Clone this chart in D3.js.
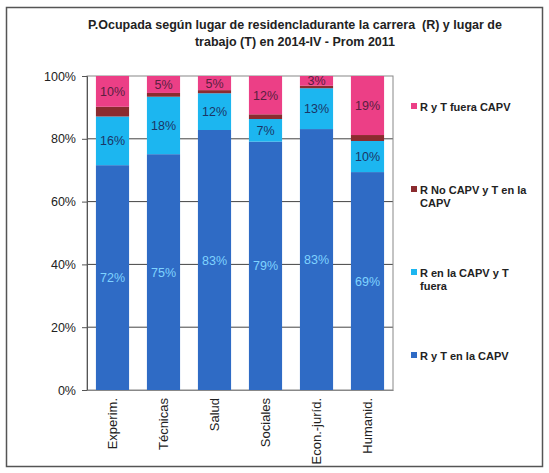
<!DOCTYPE html>
<html><head><meta charset="utf-8">
<script src="https://cdn.jsdelivr.net/npm/d3@7/dist/d3.min.js"></script>
<style>body{margin:0;background:#fff}svg{display:block;font-family:"Liberation Sans",Arial,sans-serif}</style>
</head><body><svg id="c" width="549" height="473"></svg>
<script>
const categories = ["Experim.","Técnicas","Salud","Sociales","Econ.-juríd.","Humanid."];
const seriesNames = ["R y T en la CAPV","R en la CAPV y T fuera","R No CAPV y T en la CAPV","R y T fuera CAPV"];
const rytCapv   = [71.6, 75.1, 82.8, 79.1, 83.1, 69.4];
const rCapvTFue = [15.5, 18.3, 11.7, 7.2, 13.0, 9.9];
const rNoCapvT  = [3.1, 1.2, 1.0, 1.5, 0.8, 1.9];
const rytFuera  = [9.8, 5.4, 4.5, 12.2, 3.1, 18.8];
const yTicks = [0, 20, 40, 60, 80, 100];
const colors = ["#2f6bc5", "#1cb6f0", "#8b2b2f", "#ec3f86"];
const labelColors = ["#7fd3ff", "#1b3566", null, "#5a2040"];

const series = [rytCapv, rCapvTFue, rNoCapvT, rytFuera];
const svg = d3.select("#c");
const m = {l:87, r:393, t:76, b:390};

// outer frame
svg.append("rect").attr("x",6.5).attr("y",7.5).attr("width",536).attr("height",459)
  .attr("fill","none").attr("stroke","#555").attr("stroke-width",1.5);

// title
const title = svg.append("text").attr("text-anchor","middle").attr("font-weight","bold")
  .attr("font-size","12.5px").attr("fill","#222").style("white-space","pre");
title.append("tspan").attr("x",295).attr("y",29).text("P.Ocupada según lugar de residencladurante la carrera  (R) y lugar de");
title.append("tspan").attr("x",295).attr("y",46).text("trabajo (T) en 2014-IV - Prom 2011");

const x = d3.scaleBand().domain(categories).range([m.l, m.r]).paddingInner(0.35).paddingOuter(0.175);
const y = d3.scaleLinear().domain([0,100]).range([m.b, m.t]);

// gridlines
svg.append("g").selectAll("line").data(yTicks.filter(t=>t>0 && t<100)).join("line")
  .attr("x1",m.l).attr("x2",m.r).attr("y1",d=>y(d)).attr("y2",d=>y(d))
  .attr("stroke","#444").attr("stroke-width",1);

// plot border
svg.append("rect").attr("x",m.l).attr("y",m.t).attr("width",m.r-m.l).attr("height",m.b-m.t)
  .attr("fill","none").attr("stroke","#888").attr("stroke-width",1);

// stacked data
const stackData = categories.map((c,i)=>{
  const o = {cat:c}; seriesNames.forEach((s,k)=>o[s]=series[k][i]); return o;
});
const stacked = d3.stack().keys(seriesNames)(stackData);

const g = svg.append("g");
stacked.forEach((layer,k)=>{
  g.append("g").selectAll("rect").data(layer).join("rect")
    .attr("x",d=>x(d.data.cat)).attr("width",x.bandwidth())
    .attr("y",d=>y(d[1])).attr("height",d=>y(d[0])-y(d[1]))
    .attr("fill",colors[k]);
  if (labelColors[k]) {
    g.append("g").selectAll("text").data(layer).join("text")
      .attr("x",d=>x(d.data.cat)+x.bandwidth()/2)
      .attr("y",d=>(y(d[0])+y(d[1]))/2+4.5)
      .attr("text-anchor","middle").attr("font-size","12.5px")
      .attr("fill",labelColors[k])
      .text(d=>Math.round(d[1]-d[0])+"%");
  }
});

// y axis
const ya = svg.append("g").attr("transform",`translate(${m.l},0)`)
  .call(d3.axisLeft(y).tickValues(yTicks).tickFormat(d=>d+"%").tickSize(5).tickPadding(6));
ya.select(".domain").attr("stroke","#555");
ya.selectAll(".tick line").attr("stroke","#555");
ya.selectAll("text").attr("font-size","12.5px").attr("fill","#222").attr("font-family","Liberation Sans, Arial, sans-serif");

// x axis labels rotated
const xa = svg.append("g").attr("transform",`translate(0,${m.b})`)
  .call(d3.axisBottom(x).tickSize(0).tickPadding(0));
xa.select(".domain").attr("stroke","#888");
xa.selectAll("text").attr("font-size","13px").attr("fill","#222")
  .attr("font-family","Liberation Sans, Arial, sans-serif")
  .attr("transform","rotate(-90)").attr("text-anchor","end")
  .attr("dx","-8px").attr("dy","0.35em").attr("y",0).attr("x",0);

// legend
const legend = [
  {k:3, lines:["R y T fuera CAPV"], y:107},
  {k:2, lines:["R No CAPV y T en la","CAPV"], y:190},
  {k:1, lines:["R en la CAPV y T","fuera"], y:273},
  {k:0, lines:["R y T en la CAPV"], y:356}
];
const lg = svg.append("g");
legend.forEach(d=>{
  lg.append("rect").attr("x",411).attr("y",d.y-4).attr("width",6).attr("height",6).attr("fill",colors[d.k]);
  const t = lg.append("text").attr("font-size","11px").attr("font-weight","bold").attr("fill","#222");
  d.lines.forEach((l,i)=>t.append("tspan").attr("x",420).attr("y",d.y+4+i*13).text(l));
});
</script></body></html>
